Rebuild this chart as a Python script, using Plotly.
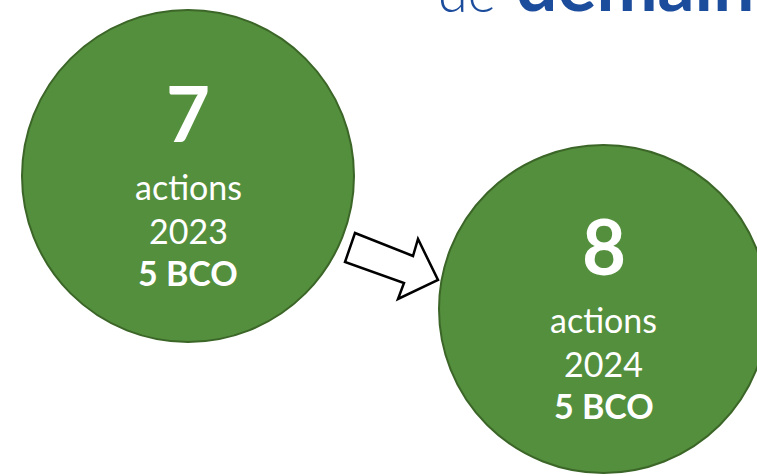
import plotly.graph_objects as go

# Data
counts = [7, 8]
years = [2023, 2024]
bco = [5, 5]
unit_label = "actions"
header_parts = ["de", "demain"]

W, H = 757, 476
GREEN = "#548f3d"
EDGE = "#3b6628"

# circle geometry (pixel coords, y downward)
circles = [
    dict(x0=22, x1=354, y0=10, y1=342),
    dict(x0=439, x1=768, y0=145, y1=473),
]

fig = go.Figure()
fig.add_trace(go.Scatter(x=[0, W], y=[0, H], mode="markers", marker=dict(opacity=0), hoverinfo="skip", showlegend=False))

for c in circles:
    fig.add_shape(type="circle", xref="x", yref="y", x0=c["x0"], x1=c["x1"], y0=c["y0"], y1=c["y1"],
                  fillcolor=GREEN, line=dict(color=EDGE, width=2), layer="below")

# arrow
pts = [(355, 233), (413, 256), (418, 239), (438, 280), (398, 299), (404, 283), (345, 262)]
path = "M " + " L ".join(f"{x},{y}" for x, y in pts) + " Z"
fig.add_shape(type="path", path=path, xref="x", yref="y", fillcolor="white",
              line=dict(color="black", width=2.5))

FONT = "Lato, Carlito, Calibri, sans-serif"
for i, c in enumerate(circles):
    cx = (c["x0"] + c["x1"]) / 2
    cy = (c["y0"] + c["y1"]) / 2
    lines = [
        (f"<b>{counts[i]}</b>", 76, cy - 64),
        (unit_label, 34, cy + 10),
        (str(years[i]), 34, cy + 54),
        (f"<b>{bco[i]} BCO</b>", 34, cy + 96),
    ]
    for txt, size, y in lines:
        fig.add_annotation(x=cx, y=y, xref="x", yref="y", text=txt, showarrow=False,
                           font=dict(family=FONT, size=size, color="white"),
                           xanchor="center", yanchor="middle")

# partial header text at top right (cut off by the top edge, as in the source)
fig.add_annotation(x=436, y=26, xref="x", yref="y", text=header_parts[0], showarrow=False,
                   font=dict(family="Lato", size=54, color="#1c4c9c", weight=300),
                   xanchor="left", yanchor="bottom")
fig.add_annotation(x=514, y=29, xref="x", yref="y", text=f"<b>{header_parts[1]}</b>", showarrow=False,
                   font=dict(family="Lato", size=73, color="#1c4c9c"),
                   xanchor="left", yanchor="bottom")

fig.update_xaxes(range=[0, W], visible=False, fixedrange=True)
fig.update_yaxes(range=[H, 0], visible=False, fixedrange=True)
fig.update_layout(width=W, height=H, margin=dict(l=0, r=0, t=0, b=0),
                  paper_bgcolor="white", plot_bgcolor="white", showlegend=False)

fig.write_html("out.html", config={"displayModeBar": False},
               post_script="document.body.style.margin='0';document.body.style.overflow='hidden';")
